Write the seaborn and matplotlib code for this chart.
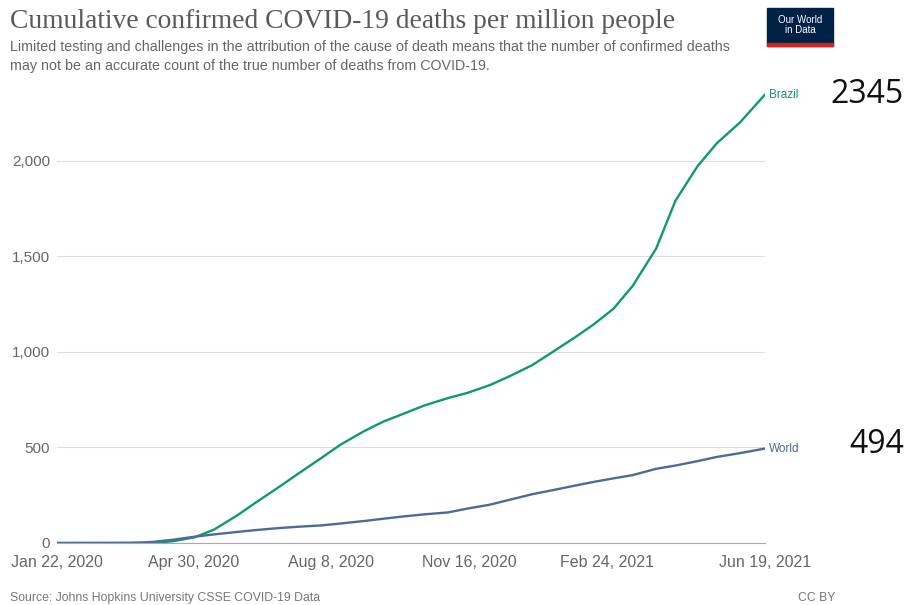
import pandas as pd
import matplotlib.pyplot as plt
from matplotlib.patches import Rectangle
import seaborn as sns

# Values (deaths per million)
dates = ["2020-01-22", "2020-03-01", "2020-03-15", "2020-03-25", "2020-04-01", "2020-04-15",
         "2020-05-01", "2020-05-15", "2020-06-01", "2020-06-15", "2020-07-01", "2020-07-15",
         "2020-08-01", "2020-08-15", "2020-09-01", "2020-09-15", "2020-10-01", "2020-10-15",
         "2020-11-01", "2020-11-15", "2020-12-01", "2020-12-15", "2021-01-01", "2021-01-15",
         "2021-02-01", "2021-02-15", "2021-03-01", "2021-03-15", "2021-04-01", "2021-04-15",
         "2021-05-01", "2021-05-15", "2021-06-01", "2021-06-19"]
brazil = [0, 0, 0, 0.3, 1.5, 9, 30, 70, 145, 215, 292, 362, 445, 515, 585, 635, 680, 720,
          758, 785, 825, 870, 930, 995, 1075, 1145, 1225, 1345, 1540, 1790, 1970, 2090, 2200, 2345]
world = [0, 0.4, 0.9, 3, 6, 17, 33, 45, 58, 68, 78, 85, 92, 102, 115, 127, 140, 150,
         160, 180, 200, 225, 255, 275, 300, 320, 338, 355, 388, 405, 428, 450, 470, 494]

tick_labels = ["Jan 22, 2020", "Apr 30, 2020", "Aug 8, 2020", "Nov 16, 2020", "Feb 24, 2021", "Jun 19, 2021"]
y_ticks = [0, 500, 1000, 1500, 2000]

colors = {"Brazil": "#0f9a6e", "World": "#4c6a9c"}

df = pd.DataFrame({
    "date": pd.to_datetime(dates * 2),
    "value": brazil + world,
    "country": ["Brazil"] * len(dates) + ["World"] * len(dates),
})

sns.set_style("white")
plt.rcParams["font.family"] = ["Liberation Sans", "DejaVu Sans"]

fig = plt.figure(figsize=(9.06, 6.05), dpi=100)
ax = fig.add_axes([57 / 906, 62 / 605, 708 / 906, 459 / 605])

sns.lineplot(data=df, x="date", y="value", hue="country", palette=colors,
             linewidth=1.7, legend=False, ax=ax)

tick_dates = pd.to_datetime(tick_labels, format="%b %d, %Y")
ax.set_xlim(tick_dates[0], tick_dates[-1])
ax.set_ylim(0, 2400)
ax.set_xticks(tick_dates)
ax.set_xticklabels(tick_labels, va="baseline")
ax.set_yticks(y_ticks)
ax.set_yticklabels([f"{v:,}" for v in y_ticks])
ax.tick_params(axis="both", length=0, colors="#666666")
ax.tick_params(axis="x", labelsize=11.5, pad=17.5)
ax.tick_params(axis="y", labelsize=11, pad=5)
ax.set_xlabel("")
ax.set_ylabel("")
ax.yaxis.grid(True, color="#dddddd", linewidth=0.8)
ax.xaxis.grid(False)
for side in ["top", "right", "left"]:
    ax.spines[side].set_visible(False)
ax.spines["bottom"].set_color("#aaaaaa")
ax.spines["bottom"].set_linewidth(0.8)

# end labels
last = pd.Timestamp(dates[-1])
ax.annotate("Brazil", xy=(last, brazil[-1]), xytext=(3, 0),
            textcoords="offset points", color=colors["Brazil"], fontsize=8.5,
            va="center", ha="left", annotation_clip=False)
ax.annotate("World", xy=(last, world[-1]), xytext=(3, 0),
            textcoords="offset points", color=colors["World"], fontsize=8.5,
            va="center", ha="left", annotation_clip=False)
ax.annotate(f"{brazil[-1]}", xy=(last, brazil[-1]), xytext=(100, 0),
            textcoords="offset points", color="#111111", fontsize=23,
            va="center", ha="right", annotation_clip=False, family=["Open Sans", "DejaVu Sans"])
ax.annotate(f"{world[-1]}", xy=(last, world[-1]), xytext=(100, 3),
            textcoords="offset points", color="#111111", fontsize=23,
            va="center", ha="right", annotation_clip=False, family=["Open Sans", "DejaVu Sans"])

# titles
fig.text(10 / 906, 1 - 22 / 605, "Cumulative confirmed COVID-19 deaths per million people",
         family=["Liberation Serif", "DejaVu Serif"], fontsize=19.8, color="#5a5a5a", va="center")
fig.text(10 / 906, 1 - 47 / 605,
         "Limited testing and challenges in the attribution of the cause of death means that the number of confirmed deaths",
         fontsize=10.3, color="#666666", va="center")
fig.text(10 / 906, 1 - 66 / 605,
         "may not be an accurate count of the true number of deaths from COVID-19.",
         fontsize=10.3, color="#666666", va="center")

# logo
fig.patches.append(Rectangle((767 / 906, 1 - 46 / 605), 66 / 906, 38 / 605,
                             transform=fig.transFigure, color="#002147", zorder=1))
fig.patches.append(Rectangle((767 / 906, 1 - 46 / 605), 66 / 906, 3 / 605,
                             transform=fig.transFigure, color="#ce261e", zorder=2))
fig.text(800 / 906, 1 - 25 / 605, "Our World\nin Data", color="white", fontsize=7,
         ha="center", va="center", linespacing=0.95)

# footer
fig.text(10 / 906, 1 - 598 / 605, "Source: Johns Hopkins University CSSE COVID-19 Data",
         fontsize=8.8, color="#777777", va="center")
fig.text(835 / 906, 1 - 598 / 605, "CC BY", fontsize=8.8, color="#777777", va="center", ha="right")

fig.savefig("out.png", dpi=100)
